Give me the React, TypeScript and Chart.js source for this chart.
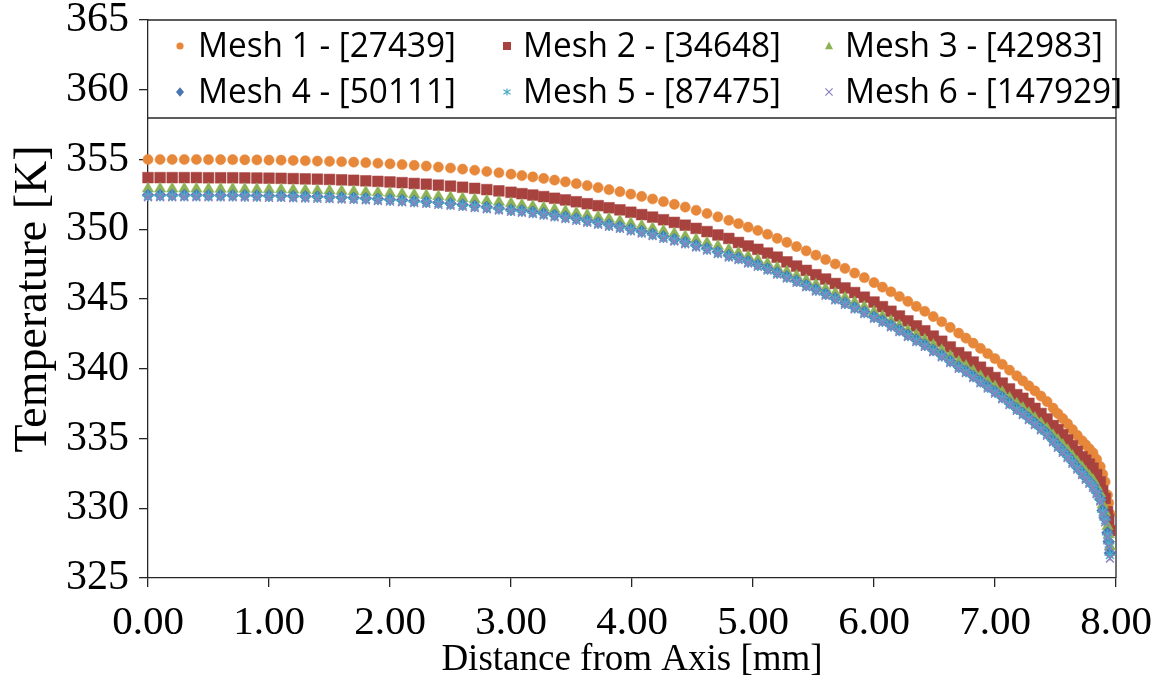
import React, { useEffect, useRef } from "react";
import { Chart, registerables } from "chart.js";

Chart.register(...registerables);

// ---- data ----
const X_MM = [
  0.0, 0.1, 0.2, 0.3, 0.4, 0.5, 0.6, 0.7, 0.8, 0.9,
  1.0, 1.1, 1.2, 1.3, 1.4, 1.5, 1.6, 1.7, 1.8, 1.9,
  2.0, 2.1, 2.2, 2.3, 2.4, 2.5, 2.6, 2.7, 2.8, 2.9,
  3.0,
  3.09, 3.18, 3.27, 3.36, 3.45, 3.54, 3.63, 3.72, 3.81, 3.9,
  3.99, 4.08, 4.17, 4.26, 4.35, 4.44, 4.53, 4.62, 4.71, 4.8,
  4.88, 4.96, 5.04, 5.12, 5.2, 5.28, 5.36, 5.44, 5.52, 5.6,
  5.68, 5.76, 5.84, 5.92, 6.0,
  6.07, 6.14, 6.21, 6.28, 6.35, 6.42, 6.49, 6.56, 6.63, 6.7,
  6.76, 6.82, 6.88, 6.94, 7.0, 7.06, 7.12, 7.18,
  7.23, 7.28, 7.33, 7.38, 7.43, 7.48,
  7.52, 7.56, 7.6, 7.64, 7.68, 7.72,
  7.75, 7.78, 7.81, 7.84, 7.87,
  7.89, 7.91, 7.93, 7.94, 7.95,
];

const MESH1 = [
  355.0, 355.0, 355.0, 355.0, 355.0, 354.99, 354.99, 354.99, 354.98, 354.97,
  354.96, 354.95, 354.93, 354.91, 354.89, 354.87, 354.84, 354.81, 354.77, 354.73,
  354.69, 354.64, 354.58, 354.53, 354.46, 354.39, 354.31, 354.23, 354.14, 354.05,
  353.95,
  353.85, 353.75, 353.64, 353.52, 353.4, 353.27, 353.13, 352.99, 352.84, 352.69,
  352.52, 352.35, 352.17, 351.98, 351.79, 351.59, 351.36, 351.13, 350.89, 350.64,
  350.4, 350.15, 349.91, 349.64, 349.35, 349.06, 348.76, 348.45, 348.14, 347.83,
  347.51, 347.19, 346.86, 346.53, 346.18,
  345.85, 345.52, 345.18, 344.83, 344.47, 344.12, 343.74, 343.37, 342.96, 342.55,
  342.19, 341.83, 341.46, 341.08, 340.72, 340.32, 339.9, 339.49,
  339.13, 338.77, 338.41, 338.04, 337.65, 337.18,
  336.79, 336.43, 336.05, 335.64, 335.23, 334.84,
  334.55, 334.26, 333.97, 333.51, 332.99,
  332.44, 331.9, 330.95, 330.38, 329.6,
];

const MESH2 = [
  353.7, 353.7, 353.7, 353.7, 353.7, 353.69, 353.69, 353.69, 353.68, 353.67,
  353.66, 353.65, 353.63, 353.61, 353.59, 353.57, 353.54, 353.51, 353.47, 353.43,
  353.39, 353.34, 353.28, 353.23, 353.16, 353.09, 353.01, 352.93, 352.84, 352.75,
  352.65,
  352.55, 352.45, 352.34, 352.22, 352.1, 351.97, 351.83, 351.69, 351.54, 351.39,
  351.22, 351.05, 350.87, 350.68, 350.49, 350.29, 350.06, 349.83, 349.59, 349.34,
  349.05, 348.8, 348.56, 348.29, 348.0, 347.66, 347.36, 347.05, 346.74, 346.43,
  346.11, 345.79, 345.46, 345.13, 344.78,
  344.45, 344.12, 343.78, 343.43, 343.07, 342.72, 342.34, 341.97, 341.56, 341.15,
  340.84, 340.48, 340.11, 339.73, 339.37, 338.97, 338.55, 338.14,
  337.88, 337.52, 337.16, 336.79, 336.4, 335.93,
  335.64, 335.28, 334.9, 334.49, 334.08, 333.69,
  333.45, 333.16, 332.87, 332.41, 331.89,
  331.24, 330.7, 329.75, 329.18, 328.4,
];

const MESH3 = [
  352.9, 352.9, 352.9, 352.9, 352.9, 352.89, 352.89, 352.89, 352.88, 352.87,
  352.86, 352.85, 352.83, 352.81, 352.79, 352.77, 352.74, 352.71, 352.67, 352.63,
  352.59, 352.54, 352.48, 352.43, 352.36, 352.29, 352.21, 352.13, 352.04, 351.95,
  351.85,
  351.75, 351.65, 351.54, 351.42, 351.3, 351.17, 351.03, 350.89, 350.74, 350.59,
  350.42, 350.25, 350.07, 349.88, 349.69, 349.49, 349.26, 349.03, 348.79, 348.54,
  348.3, 348.05, 347.81, 347.54, 347.25, 346.96, 346.66, 346.35, 346.04, 345.73,
  345.41, 345.09, 344.76, 344.43, 344.08,
  343.75, 343.42, 343.08, 342.73, 342.42, 342.07, 341.69, 341.32, 340.91, 340.5,
  340.19, 339.83, 339.46, 339.08, 338.72, 338.32, 337.9, 337.49,
  337.18, 336.82, 336.46, 336.09, 335.7, 335.23,
  334.89, 334.53, 334.15, 333.74, 333.33, 332.94,
  332.6, 332.31, 332.02, 331.56, 331.04,
  330.24, 329.7, 328.7, 328.1, 327.25,
];

const MESH4 = [
  352.45, 352.45, 352.45, 352.45, 352.45, 352.44, 352.44, 352.44, 352.43, 352.42,
  352.41, 352.4, 352.38, 352.36, 352.34, 352.32, 352.29, 352.26, 352.22, 352.18,
  352.14, 352.09, 352.03, 351.98, 351.91, 351.84, 351.76, 351.68, 351.59, 351.5,
  351.4,
  351.35, 351.25, 351.14, 351.02, 350.9, 350.77, 350.63, 350.49, 350.34, 350.19,
  350.02, 349.85, 349.67, 349.48, 349.29, 349.09, 348.86, 348.63, 348.39, 348.14,
  347.95, 347.7, 347.46, 347.19, 346.9, 346.61, 346.31, 346.0, 345.69, 345.38,
  345.06, 344.74, 344.41, 344.08, 343.73,
  343.45, 343.12, 342.78, 342.43, 342.07, 341.72, 341.34, 340.97, 340.56, 340.15,
  339.84, 339.48, 339.11, 338.73, 338.37, 337.97, 337.55, 337.14,
  336.83, 336.47, 336.11, 335.74, 335.35, 334.88,
  334.49, 334.13, 333.75, 333.34, 332.93, 332.54,
  332.2, 331.91, 331.62, 331.16, 330.64,
  329.84, 329.25, 328.25, 327.6, 326.8,
];

const MESH5 = [
  352.4, 352.4, 352.4, 352.4, 352.4, 352.39, 352.39, 352.39, 352.38, 352.37,
  352.36, 352.35, 352.33, 352.31, 352.29, 352.27, 352.24, 352.21, 352.17, 352.13,
  352.09, 352.04, 351.98, 351.93, 351.86, 351.79, 351.71, 351.63, 351.54, 351.45,
  351.35,
  351.29, 351.19, 351.08, 350.96, 350.84, 350.71, 350.57, 350.43, 350.28, 350.13,
  349.96, 349.79, 349.61, 349.42, 349.23, 349.03, 348.8, 348.57, 348.33, 348.08,
  347.9, 347.65, 347.41, 347.14, 346.85, 346.56, 346.26, 345.95, 345.64, 345.33,
  345.01, 344.69, 344.36, 344.03, 343.68,
  343.4, 343.07, 342.73, 342.38, 342.02, 341.67, 341.29, 340.92, 340.51, 340.1,
  339.79, 339.43, 339.06, 338.68, 338.32, 337.92, 337.5, 337.09,
  336.78, 336.42, 336.06, 335.69, 335.3, 334.83,
  334.44, 334.08, 333.7, 333.29, 332.88, 332.49,
  332.15, 331.86, 331.57, 331.11, 330.59,
  329.74, 329.15, 328.1, 327.45, 326.65,
];

const MESH6 = [
  352.3, 352.3, 352.3, 352.3, 352.3, 352.29, 352.29, 352.29, 352.28, 352.27,
  352.26, 352.25, 352.23, 352.21, 352.19, 352.17, 352.14, 352.11, 352.07, 352.03,
  351.99, 351.94, 351.88, 351.83, 351.76, 351.69, 351.61, 351.53, 351.44, 351.35,
  351.25,
  351.19, 351.09, 350.98, 350.86, 350.74, 350.61, 350.47, 350.33, 350.18, 350.03,
  349.86, 349.69, 349.51, 349.32, 349.13, 348.93, 348.7, 348.47, 348.23, 347.98,
  347.8, 347.55, 347.31, 347.04, 346.75, 346.46, 346.16, 345.85, 345.54, 345.23,
  344.91, 344.59, 344.26, 343.93, 343.58,
  343.3, 342.97, 342.63, 342.28, 341.92, 341.57, 341.19, 340.82, 340.41, 340.0,
  339.69, 339.33, 338.96, 338.58, 338.22, 337.82, 337.4, 336.99,
  336.68, 336.32, 335.96, 335.59, 335.2, 334.73,
  334.34, 333.98, 333.6, 333.19, 332.78, 332.39,
  332.05, 331.76, 331.47, 331.01, 330.49,
  329.6, 329.0, 327.95, 327.25, 326.4,
];

const SERIES_NAMES = [
  "Mesh 1 - [27439]",
  "Mesh 2 - [34648]",
  "Mesh 3 - [42983]",
  "Mesh 4 - [50111]",
  "Mesh 5 - [87475]",
  "Mesh 6 - [147929]",
];
const SERIES_VALUES = [MESH1, MESH2, MESH3, MESH4, MESH5, MESH6];
const SERIES_COLORS = ["#E6873A", "#A8423F", "#8DB255", "#4A75B5", "#4BACC6", "#8C80BE"];
const SERIES_STYLES = ["circle", "rect", "triangle", "rectRot", "star", "crossRot"];
const SERIES_RADII = [5.1, 7.6, 6.6, 6, 5.6, 5.6];

const X_TITLE = "Distance from Axis [mm]";
const Y_TITLE = "Temperature [K]";
const X_MIN = 0, X_MAX = 8, X_STEP = 1;
const Y_MIN = 325, Y_MAX = 365, Y_STEP = 5;

const AXIS_COLOR = "#262626";
const SERIF = '"Liberation Serif", "Times New Roman", serif';

function drawMarker(ctx: CanvasRenderingContext2D, style: string, x: number, y: number, r: number, color: string) {
  ctx.save();
  ctx.fillStyle = color;
  ctx.strokeStyle = color;
  ctx.lineWidth = 1.2;
  ctx.beginPath();
  if (style === "circle") {
    ctx.arc(x, y, r, 0, Math.PI * 2);
    ctx.fill();
  } else if (style === "rect") {
    ctx.fillRect(x - r, y - r, 2 * r, 2 * r);
  } else if (style === "triangle") {
    ctx.moveTo(x, y - r * 1.1);
    ctx.lineTo(x + r, y + r * 0.8);
    ctx.lineTo(x - r, y + r * 0.8);
    ctx.closePath();
    ctx.fill();
  } else if (style === "rectRot") {
    ctx.moveTo(x, y - r * 1.2);
    ctx.lineTo(x + r, y);
    ctx.lineTo(x, y + r * 1.2);
    ctx.lineTo(x - r, y);
    ctx.closePath();
    ctx.fill();
  } else if (style === "star") {
    ctx.moveTo(x, y - r); ctx.lineTo(x, y + r);
    ctx.moveTo(x - r, y - r * 0.6); ctx.lineTo(x + r, y + r * 0.6);
    ctx.moveTo(x - r, y + r * 0.6); ctx.lineTo(x + r, y - r * 0.6);
    ctx.stroke();
  } else {
    ctx.moveTo(x - r, y - r); ctx.lineTo(x + r, y + r);
    ctx.moveTo(x - r, y + r); ctx.lineTo(x + r, y - r);
    ctx.stroke();
  }
  ctx.restore();
}

const frameAndLegend = {
  id: "frameAndLegend",
  beforeDatasetsDraw(chart: any) {
    const { ctx, chartArea: a } = chart;
    ctx.save();
    ctx.strokeStyle = AXIS_COLOR;
    ctx.lineWidth = 1.3;
    ctx.beginPath();
    ctx.moveTo(a.left, a.top);
    ctx.lineTo(a.right, a.top);
    ctx.lineTo(a.right, a.bottom);
    ctx.stroke();
    ctx.restore();
  },
  afterDatasetsDraw(chart: any) {
    const { ctx, chartArea: a } = chart;
    const boxBottom = a.top + 98;
    ctx.save();
    ctx.fillStyle = "#ffffff";
    ctx.fillRect(a.left + 1, a.top + 1, a.right - a.left - 2, boxBottom - a.top - 1);
    ctx.strokeStyle = AXIS_COLOR;
    ctx.lineWidth = 1.3;
    ctx.beginPath();
    ctx.moveTo(a.left, boxBottom);
    ctx.lineTo(a.right, boxBottom);
    ctx.stroke();

    const markerX = [180, 507, 829];
    const textX = [198, 523, 845];
    const rowY = [46, 92];
    const legendR = [3.6, 4, 4, 4, 3.6, 3.6];
    ctx.font = '35px "Open Sans", "Liberation Sans", sans-serif';
    const natural = ctx.measureText(SERIES_NAMES[0]).width;
    const sx = 258 / natural;
    ctx.textBaseline = "middle";
    ctx.textAlign = "left";
    SERIES_NAMES.forEach((name, i) => {
      const col = i % 3;
      const row = Math.floor(i / 3);
      drawMarker(ctx, SERIES_STYLES[i], markerX[col], rowY[row], legendR[i], SERIES_COLORS[i]);
      ctx.fillStyle = "#000000";
      const w = ctx.measureText(name).width * sx;
      ctx.fillText(name, textX[col], rowY[row] + 1, w);
    });
    ctx.restore();
  },
};

export default function App() {
  const canvasRef = useRef<HTMLCanvasElement | null>(null);

  useEffect(() => {
    if (!canvasRef.current) return;
    const datasets = SERIES_NAMES.map((name, i) => ({
      label: name,
      data: X_MM.map((x, j) => ({ x, y: SERIES_VALUES[i][j] })),
      showLine: false,
      pointStyle: SERIES_STYLES[i] as any,
      pointRadius: SERIES_RADII[i],
      pointBackgroundColor: SERIES_COLORS[i],
      pointBorderColor: SERIES_COLORS[i],
      pointBorderWidth: i >= 4 ? 1.5 : 0.5,
      order: 5 - i,
      clip: false as any,
    }));

    const chart = new Chart(canvasRef.current, {
      type: "scatter",
      data: { datasets },
      plugins: [frameAndLegend],
      options: {
        animation: false,
        responsive: false,
        devicePixelRatio: 1,
        events: [],
        layout: { padding: { left: 0, right: 44, top: 20, bottom: 0 } },
        plugins: { legend: { display: false }, tooltip: { enabled: false } },
        scales: {
          x: {
            type: "linear",
            min: X_MIN,
            max: X_MAX,
            afterFit: (s: any) => { s.height = 104; s.paddingLeft = 0; s.paddingRight = 0; },
            ticks: {
              stepSize: X_STEP,
              color: "#000",
              padding: 12,
              maxRotation: 0,
              font: { family: SERIF, size: 41 },
              callback: (v: any) => Number(v).toFixed(2),
            },
            grid: { display: true, drawOnChartArea: false, drawTicks: true, tickLength: 9, color: AXIS_COLOR, lineWidth: 1.3 },
            border: { display: true, color: AXIS_COLOR, width: 1.3 },
            title: { display: true, text: X_TITLE, color: "#000", font: { family: SERIF, size: 37 }, padding: { top: 0, bottom: 0 } },
          },
          y: {
            type: "linear",
            min: Y_MIN,
            max: Y_MAX,
            afterFit: (s: any) => { s.width = 148; s.paddingTop = 0; s.paddingBottom = 0; },
            ticks: {
              stepSize: Y_STEP,
              color: "#000",
              padding: 10,
              font: { family: SERIF, size: 42 },
            },
            grid: { display: true, drawOnChartArea: false, drawTicks: true, tickLength: 9, color: AXIS_COLOR, lineWidth: 1.3 },
            border: { display: true, color: AXIS_COLOR, width: 1.3 },
            title: { display: true, text: Y_TITLE, color: "#000", font: { family: SERIF, size: 46 }, padding: { top: 6, bottom: 0 } },
          },
        },
      },
    });
    return () => chart.destroy();
  }, []);

  return (
    <div style={{ position: "absolute", left: 0, top: 0, width: 1160, height: 682, background: "#fff" }}>
      <canvas ref={canvasRef} width={1160} height={682} style={{ display: "block", width: 1160, height: 682 }} />
    </div>
  );
}
